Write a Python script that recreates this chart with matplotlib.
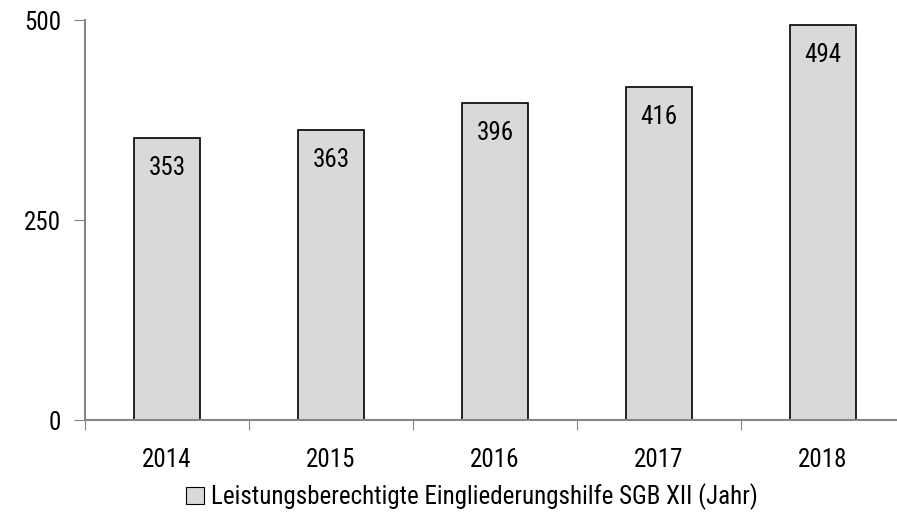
import matplotlib.pyplot as plt
from matplotlib.patches import Patch

plt.rcParams['font.family'] = ['Roboto Condensed', 'Liberation Sans', 'DejaVu Sans']

years = ["2014", "2015", "2016", "2017", "2018"]
values = [353, 363, 396, 416, 494]
legend_label = "Leistungsberechtigte Eingliederungshilfe SGB XII (Jahr)"

axis_gray = "#868686"
bar_gray = "#d9d9d9"
fs = 18

fig = plt.figure(figsize=(8.97, 5.24), dpi=100)
# axes runs a bit past the right edge, as in the original
ax = fig.add_axes([85 / 897, 104 / 524, 820 / 897, 400 / 524])

x = range(len(years))
bars = ax.bar(x, values, width=0.4, color=bar_gray, edgecolor="black", linewidth=1.2)

for rect, v in zip(bars, values):
    ax.annotate(str(v), (rect.get_x() + rect.get_width() / 2, v),
                xytext=(0, -30), textcoords="offset pixels",
                ha="center", va="center", fontsize=fs)

ax.set_xlim(-0.5, len(years) - 0.5)
ax.set_ylim(0, 500)
ax.set_yticks([0, 250, 500])
ax.tick_params(axis="y", length=8, color=axis_gray, labelsize=fs, pad=9)

# category ticks sit between the bars, labels below the centres
ax.set_xticks([i - 0.5 for i in range(len(years) + 1)])
ax.set_xticklabels([])
ax.set_xticks(list(x), minor=True)
ax.set_xticklabels(years, minor=True, fontsize=fs)
ax.tick_params(axis="x", which="major", length=7, color=axis_gray, direction="out")
ax.tick_params(axis="x", which="minor", length=0, pad=20)

for side in ["top", "right"]:
    ax.spines[side].set_visible(False)
for side in ["left", "bottom"]:
    ax.spines[side].set_color(axis_gray)
    ax.spines[side].set_linewidth(1.5)

handle = Patch(facecolor=bar_gray, edgecolor="black", linewidth=0.8)
fig.legend([handle], [legend_label], loc="center", bbox_to_anchor=(472 / 897, 1 - 497 / 524),
           frameon=False, fontsize=fs, handlelength=0.7, handleheight=0.7, handletextpad=0.3)

fig.savefig("out.png", dpi=100)
